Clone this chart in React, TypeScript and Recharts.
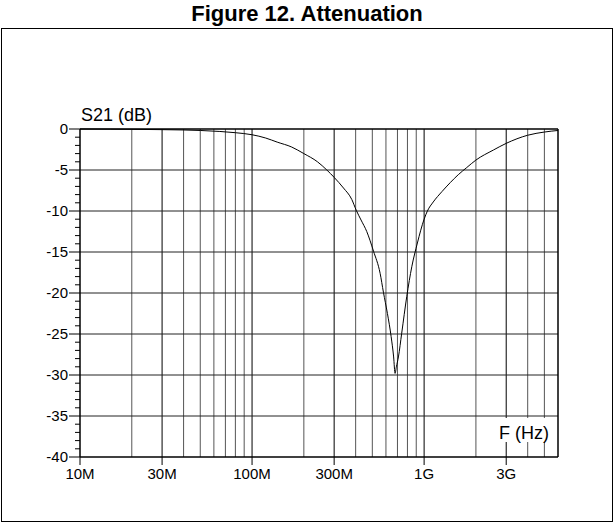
import React from 'react'
import { LineChart, Line, XAxis, YAxis, ReferenceLine } from 'recharts'

// frequency points (MHz) and S21 attenuation (dB)
const freqMHz = [10, 15, 20, 30, 40, 50, 65, 80, 100, 120, 140, 170, 200, 240, 272, 300, 340, 380, 403, 430, 464, 508, 555, 580, 612, 643, 665, 678, 690, 709, 741, 793, 848, 914, 1000, 1045, 1130, 1270, 1420, 1580, 1770, 2000, 2530, 3000, 4000, 5000, 6000]
const s21dB = [0, -0.02, -0.04, -0.08, -0.12, -0.18, -0.3, -0.45, -0.7, -1.1, -1.6, -2.2, -3.0, -4.0, -5.0, -5.9, -7.2, -8.6, -9.9, -11.1, -12.5, -14.9, -17.6, -19.9, -22.5, -25.3, -27.8, -29.8, -29.0, -27.8, -24.9, -20.4, -16.8, -13.9, -11.0, -10.0, -8.9, -7.63, -6.53, -5.57, -4.7, -3.79, -2.56, -1.75, -0.76, -0.37, -0.18]

const xTicks = [1e7, 3e7, 1e8, 3e8, 1e9, 3e9]
const xTickLabels = ['10M', '30M', '100M', '300M', '1G', '3G']
const xMajorGrid = [3e7, 1e8, 3e8, 1e9, 3e9]
const xMinorGrid = [2e7, 4e7, 5e7, 6e7, 7e7, 8e7, 9e7, 2e8, 4e8, 5e8, 6e8, 7e8, 8e8, 9e8, 2e9, 4e9, 5e9]
const yTicks = [0, -1, -2, -3, -4, -5, -6, -7, -8, -9, -10, -11, -12, -13, -14, -15, -16, -17, -18, -19, -20, -21, -22, -23, -24, -25, -26, -27, -28, -29, -30, -31, -32, -33, -34, -35, -36, -37, -38, -39, -40]
const yGrid = [-5, -10, -15, -20, -25, -30, -35]

const data = freqMHz.map((f, i) => ({ f: f * 1e6, db: s21dB[i] }))

const FONT = '"Liberation Sans", Arial, sans-serif'

const YTick = ({ x, y, payload }: any) => {
  const major = payload.value % 5 === 0
  const len = major ? 11 : 5
  return (
    <g>
      <line x1={x - len} x2={x} y1={y} y2={y} stroke="#000" strokeWidth={1} />
      {major && (
        <text x={x - len - 1} y={y} dy={5} textAnchor="end" fontSize={15} fontFamily={FONT} fill="#000">
          {payload.value}
        </text>
      )}
    </g>
  )
}

export default function App() {
  return (
    <div style={{ position: 'absolute', left: 0, top: 0, width: 614, height: 523, background: '#fff', fontFamily: FONT }}>
      <div style={{ position: 'absolute', left: 0, top: 2, width: 614, textAlign: 'center', fontSize: 22, fontWeight: 'bold', lineHeight: '24px' }}>
        Figure 12. Attenuation
      </div>
      <div style={{ position: 'absolute', left: 1, top: 28, width: 612, height: 494, border: '1px solid #000', boxSizing: 'border-box' }} />

      <div style={{ position: 'absolute', left: 0, top: 0 }}>
        <LineChart width={614} height={523} data={data} margin={{ top: 129, right: 56, bottom: 36, left: 0 }}>
          {xMinorGrid.map(f => (
            <ReferenceLine key={'m' + f} x={f} stroke="#555" strokeWidth={1} />
          ))}
          {xMajorGrid.map(f => (
            <ReferenceLine key={'M' + f} x={f} stroke="#000" strokeWidth={1} />
          ))}
          {yGrid.map(v => (
            <ReferenceLine key={'y' + v} y={v} stroke="#222" strokeWidth={1} />
          ))}
          <ReferenceLine y={0} stroke="#000" strokeWidth={1.5} />
          <ReferenceLine x={6e9} stroke="#000" strokeWidth={1.5} />
          <XAxis
            dataKey="f"
            type="number"
            scale="log"
            domain={[1e7, 6e9]}
            allowDataOverflow
            ticks={xTicks}
            interval={0}
            tickFormatter={(v: number) => xTickLabels[xTicks.indexOf(v)] ?? ''}
            tickSize={8}
            tickMargin={3}
            height={30}
            axisLine={{ stroke: '#000', strokeWidth: 1.5 }}
            tickLine={{ stroke: '#000' }}
            tick={{ fill: '#000', fontSize: 15, fontFamily: FONT }}
          />
          <YAxis
            type="number"
            domain={[-40, 0]}
            ticks={yTicks}
            interval={0}
            width={80}
            tickSize={0}
            tickMargin={0}
            axisLine={{ stroke: '#000', strokeWidth: 1.5 }}
            tickLine={false}
            tick={<YTick />}
          />
          <Line type="monotone" dataKey="db" stroke="#000" strokeWidth={1} dot={false} isAnimationActive={false} />
        </LineChart>
      </div>

      <div style={{ position: 'absolute', left: 81, top: 106, fontSize: 18, lineHeight: '18px', whiteSpace: 'nowrap' }}>
        S21 (dB)
      </div>
      <div style={{ position: 'absolute', left: 497, top: 418, width: 59, height: 24, background: '#fff', boxSizing: 'border-box', paddingLeft: 2, paddingTop: 6, fontSize: 18, lineHeight: '18px', whiteSpace: 'nowrap' }}>
        F (Hz)
      </div>
    </div>
  )
}
